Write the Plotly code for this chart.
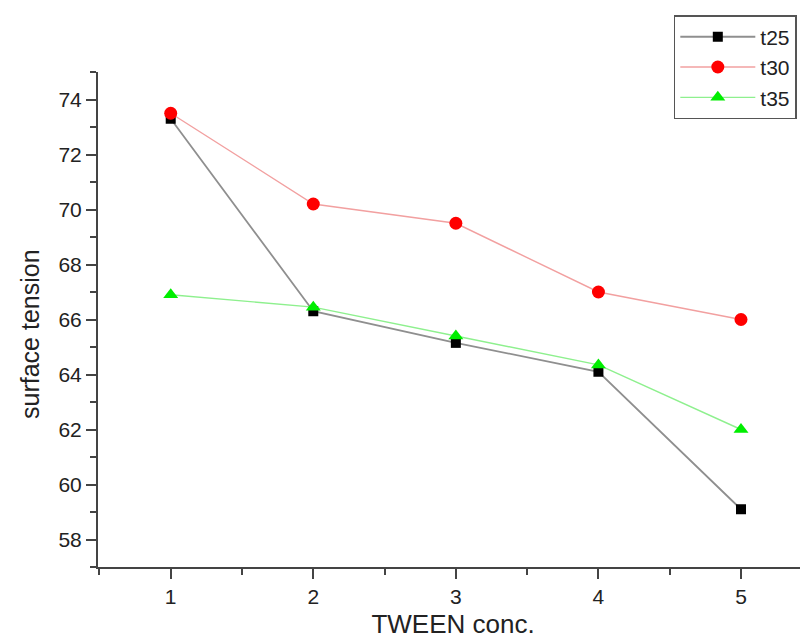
import plotly.graph_objects as go

conc = [1, 2, 3, 4, 5]
t25 = [73.3, 66.3, 65.15, 64.1, 59.1]
t30 = [73.5, 70.2, 69.5, 67.0, 66.0]
t35 = [66.9, 66.45, 65.4, 64.35, 62.0]

fig = go.Figure()
fig.add_trace(go.Scatter(x=conc, y=t25, name="t25", mode="lines+markers",
                         line=dict(color="#8f8f8f", width=1.8),
                         marker=dict(symbol="square", size=10, color="black")))
fig.add_trace(go.Scatter(x=conc, y=t30, name="t30", mode="lines+markers",
                         line=dict(color="#f2a0a0", width=1.4),
                         marker=dict(symbol="circle", size=13, color="#ff0000")))
fig.add_trace(go.Scatter(x=conc, y=t35, name="t35", mode="lines+markers",
                         line=dict(color="#8ef08e", width=1.4),
                         marker=dict(symbol="triangle-up", size=13, color="#00ee00")))

axis_common = dict(showline=True, linecolor="#444444", linewidth=2, showgrid=False,
                   zeroline=False, ticks="outside", ticklen=10, tickwidth=2, tickcolor="#444444",
                   tickfont=dict(family="Liberation Sans, Arial", size=21, color="#222222"))

fig.update_layout(
    width=800, height=631,
    margin=dict(l=90, r=0, t=64, b=72),
    paper_bgcolor="white", plot_bgcolor="white",
    font=dict(family="Liberation Sans, Arial", color="#222222"),
    xaxis=dict(range=[0.49, 5.47], tickvals=conc, ticktext=[str(c) for c in conc],
               minor=dict(ticks="outside", ticklen=6, tickwidth=2, tickcolor="#444444", dtick=0.5, tick0=0.5),
               title=dict(text="TWEEN conc.", font=dict(size=26), standoff=8),
               **axis_common),
    yaxis=dict(range=[57, 75], dtick=2, tick0=58,
               minor=dict(ticks="outside", ticklen=6, tickwidth=2, tickcolor="#444444", dtick=1, tick0=57),
               **axis_common),
    annotations=[dict(text="surface tension", textangle=-90, xref="paper", yref="paper",
                      x=-0.0958, y=0.4707, xanchor="center", yanchor="middle", showarrow=False,
                      font=dict(family="Liberation Sans, Arial", size=25, color="#222222"))],
    legend=dict(x=0.811, y=1.115, xanchor="left", yanchor="top",
                bordercolor="#555555", borderwidth=1.5, bgcolor="white",
                font=dict(family="Liberation Sans, Arial", size=21, color="#222222"),
                tracegroupgap=0, itemwidth=75),
    showlegend=True,
)

fig.write_html("out.html")
